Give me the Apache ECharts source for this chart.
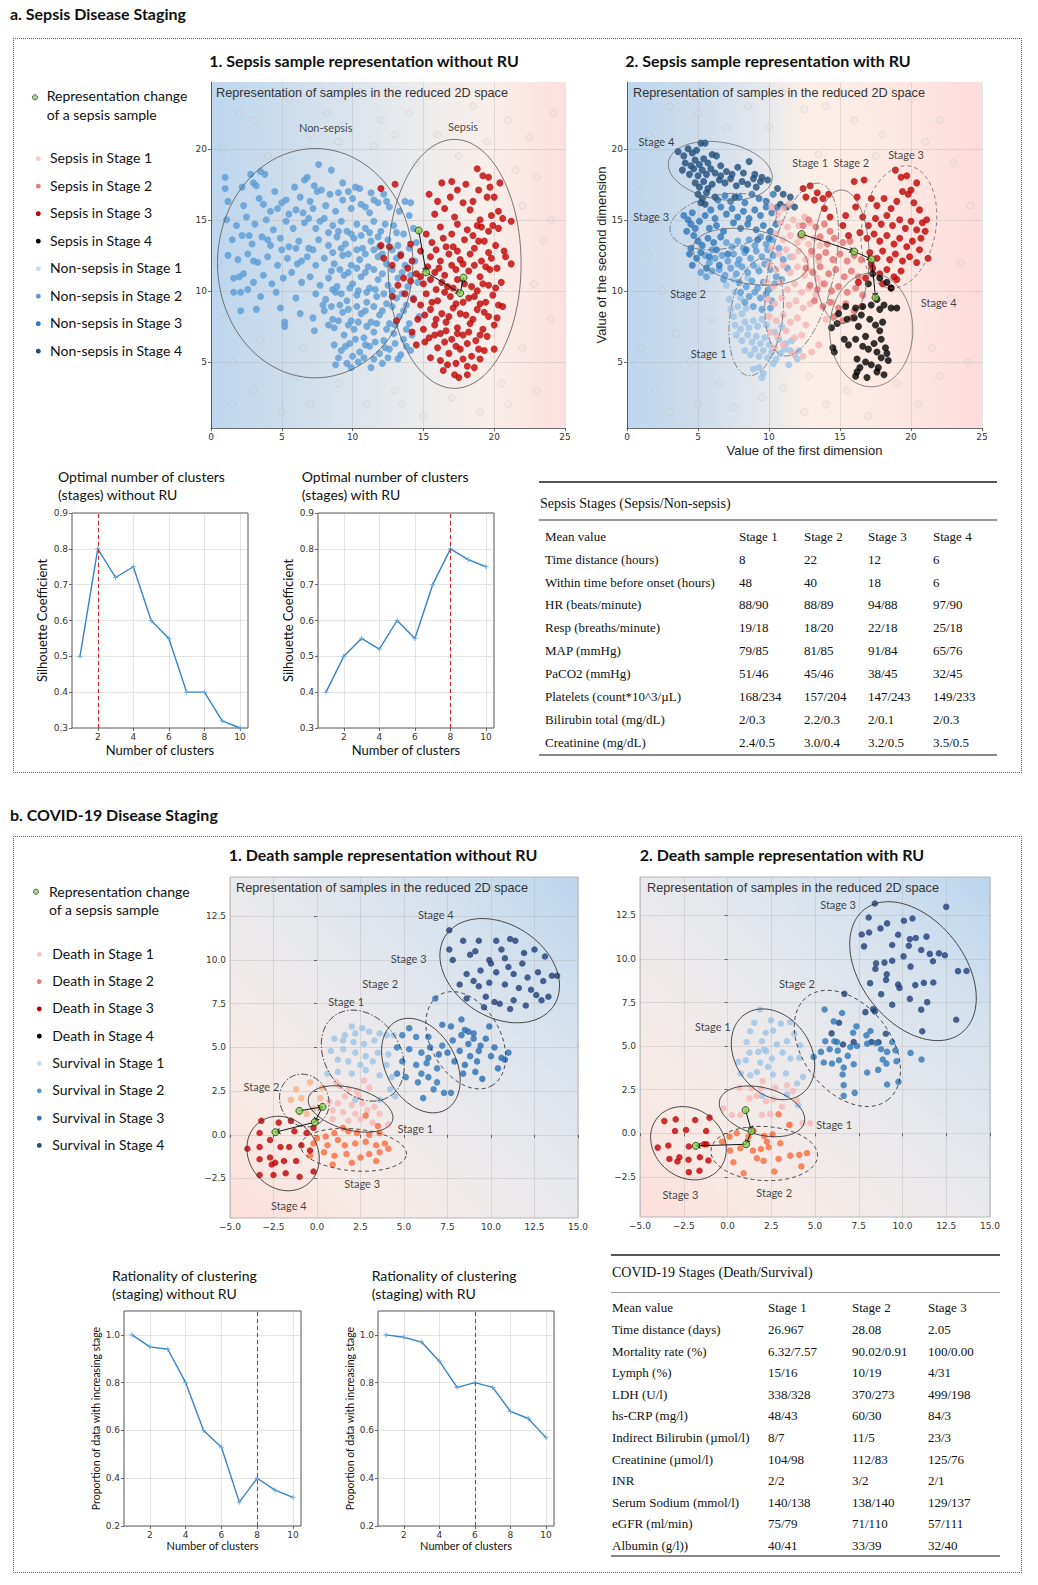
<!DOCTYPE html>
<html><head><meta charset="utf-8">
<script src="https://cdn.jsdelivr.net/npm/echarts@6/dist/echarts.min.js"></script>
<style>
html,body{margin:0;padding:0;background:#fff;}
#wrap{position:relative;width:1038px;height:1585px;overflow:hidden;background:#fff;}
#chart{position:absolute;left:0;top:0;width:1038px;height:1585px;z-index:2;}
.box{position:absolute;border:1px dotted #666;z-index:1;}
.sec{position:absolute;font-family:Lato,"Open Sans",sans-serif;font-weight:bold;font-size:16px;color:#111;transform:translateY(-50%);white-space:nowrap;z-index:3;}
.cell{position:absolute;font-family:"Liberation Serif","Times New Roman",serif;font-size:13px;color:#111;transform:translateY(-50%);white-space:nowrap;z-index:3;}
.ttl{font-size:14px;}
.hl{position:absolute;z-index:3;}
</style></head><body>
<div id="wrap">
<div class="box" style="left:13px;top:38px;width:1007px;height:733px;"></div>
<div class="box" style="left:13px;top:836px;width:1007px;height:735px;"></div>
<div class="sec" style="left:10px;top:13px;">a. Sepsis Disease Staging</div>
<div class="sec" style="left:10px;top:814px;">b. COVID-19 Disease Staging</div>
<div id="tables"></div>
<div id="chart"></div>
</div>
<script>
// ================= DATA =================
// --- a.1 Sepsis without RU (x: first dim, y: second dim) ---
const tlNonSepsisS2 = [[7.6,18.9],[8.5,18.5],[9.3,17.6],[6.8,18.0],[10.2,17.3],[7.5,17.0],[3.5,18.4],[3.8,18.2],[2.8,18.2],[1.0,18.0],
[1.0,17.2],[2.2,17.3],[3.0,17.6],[3.2,17.4],[4.5,17.0],[5.3,16.4],[6.3,16.6],[7.3,17.4],[7.8,17.1],[9.7,17.0],[10.5,17.2],[11.3,16.9],[12.2,16.8],[13.7,16.3],[14.1,16.2],
[1.2,16.3],[2.3,16.0],[3.7,16.1],[4.7,15.8],[5.0,16.2],[6.0,15.7],[6.5,15.5],[7.2,15.8],[8.1,16.0],[8.8,15.6],[9.3,16.4],[9.9,15.8],[10.6,16.1],[11.2,15.5],[11.8,16.2],[12.6,15.9],[13.3,15.6],[14.0,15.3],
[1.1,15.0],[1.8,14.6],[2.5,15.2],[3.1,14.7],[3.9,15.0],[4.4,14.3],[5.3,14.9],[5.8,14.4],[6.6,14.8],[7.4,14.4],[8.0,15.1],[8.6,14.6],[9.2,14.9],[9.6,14.2],[10.3,14.7],[10.9,14.4],[11.5,14.9],[12.0,14.2],[12.9,14.6],[13.6,14.0],[14.3,14.4],
[1.5,13.6],[2.2,13.9],[2.9,13.3],[3.6,13.8],[4.2,13.2],[4.9,13.7],[5.5,13.1],[6.2,13.5],[6.9,13.0],[7.6,13.6],[8.3,13.2],[8.9,13.8],[9.5,13.3],[10.1,13.7],[10.7,13.0],[11.3,13.5],[11.9,13.1],[12.5,13.6],[13.2,13.2],[14.0,13.0],[14.5,13.4],
[1.2,12.5],[1.9,12.2],[2.6,12.6],[3.3,12.0],[4.0,12.4],[4.7,11.8],[5.4,12.3],[6.1,11.9],[6.8,12.4],[7.4,11.8],[8.0,12.3],[8.7,11.9],[9.3,12.5],[9.9,11.8],[10.5,12.2],[11.1,11.7],[11.8,12.4],[12.4,11.9],[13.1,12.3],[13.7,11.8],[14.4,12.1],
[1.6,10.9],[2.3,11.2],[3.0,10.6],[3.7,11.1],[4.3,10.5],[5.1,10.9],[5.7,11.3],[6.4,10.6],[7.0,11.0],[7.7,10.4],[8.3,10.9],[8.9,10.3],[9.4,11.1],[10.0,10.5],[10.6,11.0],[11.2,10.2],[11.8,10.8],[12.5,10.4],[13.2,10.9],[13.9,10.3],[14.6,10.6],
[1.6,9.9],[2.1,9.9],[2.6,10.1],[3.5,9.6],[4.6,9.9],[6.0,9.5],[7.4,9.8],[8.1,9.4],[8.8,9.9],[9.6,9.3],[10.3,9.7],[11.0,9.2],[11.7,9.6],[12.4,9.1],[13.1,9.5],[13.8,9.0],[14.3,9.5],
[2.1,8.6],[3.2,8.7],[4.9,8.8],[6.3,8.4],[7.2,8.1],[8.0,8.6],[8.6,8.0],[9.3,8.5],[9.9,7.9],[10.6,8.4],[11.3,7.8],[11.9,8.3],[12.6,7.7],[13.3,8.2],[14.0,7.7],[14.7,8.2],
[5.2,7.8],[5.2,7.5],[7.3,7.2],[8.7,7.4],[9.4,6.9],[10.1,7.3],[10.8,6.7],[11.5,7.1],[12.2,6.5],[12.9,7.0],[13.6,6.6],[14.2,6.9],
[8.7,6.2],[9.2,5.8],[9.8,6.3],[10.5,5.7],[11.2,6.1],[11.9,5.6],[12.6,5.9],[13.4,5.5],[14.1,5.8],[10.0,5.4],[11.5,5.2],
[9.0,5.3],[8.8,4.8],[9.6,4.9],[10.4,5.0],[11.3,4.6],[12.1,4.9],[13.2,5.2],
[8.4,16.8],[9.0,16.9],[10.0,16.5],[10.9,15.9],[11.5,16.4],[12.4,16.3],[8.3,14.1],[9.0,14.2],[9.9,14.0],[10.6,13.9],[11.2,14.1],[11.8,13.8],[12.3,14.7],[13.1,14.1],[8.6,12.7],[9.2,13.0],[9.7,12.6],[10.3,12.9],[10.9,12.6],[11.5,12.9],[12.1,12.6],[12.8,12.9],[13.4,12.6],[8.5,11.4],[9.1,11.5],[9.7,11.3],[10.3,11.6],[10.9,11.3],[11.5,11.5],[12.1,11.2],[12.8,11.5],[13.5,11.3],[14.1,11.1],[8.6,10.1],[9.2,9.8],[9.8,10.2],[10.4,10.0],[11.0,9.9],[11.6,10.1],[12.2,9.8],[12.8,10.0],[13.5,9.8],[7.9,9.0],[8.5,8.9],[9.1,9.0],[9.7,8.7],[10.3,8.9],[10.9,8.6],[11.5,8.9],[12.1,8.6],[12.8,8.9],[13.6,8.6],[8.3,7.6],[9.0,7.9],[9.7,7.6],[10.4,7.8],[11.0,7.5],[11.7,7.7],[12.4,7.3],[13.0,7.6],[13.8,7.3],[9.5,6.1],[10.2,6.6],[10.9,6.2],[11.6,6.4],[12.3,6.0],[13.0,6.3],[13.8,6.1],[9.9,4.6],[10.8,5.3],[12.5,5.3],[4.0,13.6],[3.0,12.1],[2.0,11.0],[5.0,12.9],[6.0,13.0],[6.4,12.1],[7.2,12.9],[4.2,15.6],[5.5,15.4],[6.9,15.1],[7.7,14.9],[3.4,16.5],[5.9,17.3],[6.6,17.8],[7.0,16.3],[2.7,13.9]];
const tlSepsisS3 = [[12.0,17.2],[13.0,17.5],[16.3,17.6],[17.0,17.7],[18.8,18.6],[19.2,18.1],[19.6,18.0],[20.4,17.6],[18.9,17.1],[19.5,16.6],[20.0,16.6],[16.9,16.6],[17.8,16.2],[18.5,16.3],[20.3,15.6],[21.2,14.9],[15.8,15.4],[16.5,15.8],[17.2,15.2],[18.3,15.7],[19.0,15.0],[19.8,15.3],[20.6,15.1],[16.2,14.5],[17.4,14.7],[18.1,14.3],[18.8,14.6],[19.6,14.2],[20.3,14.4],[15.2,14.0],[14.1,13.3],[15.6,13.4],[16.4,13.7],[17.1,13.1],[17.9,13.6],[18.6,13.0],[19.3,13.5],[20.1,13.2],[20.7,12.8],[12.0,13.2],[12.6,13.1],[13.4,12.5],[14.8,12.8],[15.5,12.4],[16.2,12.1],[16.8,12.6],[17.6,12.2],[18.3,12.6],[19.1,12.1],[19.8,12.3],[20.8,12.4],[21.2,11.9],[12.2,12.3],[12.8,11.8],[13.9,11.6],[14.5,11.2],[15.8,11.3],[16.5,11.1],[17.3,11.5],[18.2,11.4],[19.0,11.0],[19.7,11.5],[13.2,10.4],[14.1,10.7],[15.0,10.5],[15.9,10.1],[16.7,10.3],[17.4,10.8],[18.4,10.3],[19.2,10.5],[20.1,10.2],[12.8,9.6],[14.3,9.4],[15.2,9.8],[16.0,9.3],[16.9,9.6],[17.8,9.2],[18.6,9.6],[19.4,9.2],[20.3,9.0],[20.6,8.9],[15.5,8.7],[16.3,8.4],[17.1,8.8],[18.0,8.3],[18.8,8.7],[19.6,8.2],[13.1,7.9],[14.6,8.0],[15.8,7.6],[16.6,7.8],[17.4,7.4],[18.3,7.7],[19.2,7.3],[20.0,7.6],[14.2,7.1],[15.4,6.7],[16.2,7.0],[17.0,6.6],[17.8,6.9],[18.7,6.5],[19.5,6.8],[16.0,6.0],[16.8,5.6],[17.6,5.9],[18.4,5.4],[19.3,5.8],[20.0,5.9],[16.2,5.1],[17.3,4.9],[18.1,4.7],[19.0,5.2],[16.4,4.4],[17.2,4.1],[18.1,4.1],[15.5,5.3],[15.1,6.4],[14.5,6.2],
[15.4,16.8],[16.0,16.3],[17.4,17.1],[18.0,17.5],[19.7,17.3],[17.0,14.0],[18.5,13.9],[19.1,14.5],[19.9,14.6],[15.9,12.9],[16.6,13.1],[17.4,12.8],[18.9,13.5],[19.6,12.7],[14.2,12.1],[15.3,11.7],[16.1,11.6],[17.0,11.8],[17.8,11.9],[18.6,11.8],[19.4,11.7],[20.2,11.6],[13.6,10.9],[14.8,11.0],[15.5,10.8],[16.3,10.6],[17.1,10.2],[17.9,10.5],[18.8,10.0],[19.6,10.4],[20.5,10.6],[13.7,9.8],[14.8,9.0],[15.6,9.2],[16.5,9.9],[17.3,9.1],[18.2,9.5],[19.0,9.1],[19.9,9.7],[15.1,8.3],[15.9,8.0],[16.8,8.2],[17.6,8.4],[18.5,8.0],[19.3,8.5],[20.2,8.1],[15.0,7.3],[15.8,6.9],[16.6,7.2],[17.4,7.0],[18.2,7.1],[19.0,6.9],[16.5,6.4],[17.3,6.1],[18.1,6.3],[18.9,5.9],[16.7,4.8],[17.8,5.2],[18.6,4.6],[17.5,3.9]];
const tlFaint = [[3,22],[5.5,23.5],[7,21],[9,20.5],[12,22],[13,21],[14,22.5],[15.5,23.8],[16,21],[18.5,23],[19.5,20.5],[21,22],[22.5,20.8],[23,18],[22,16],[23.5,13.5],[22.8,10.5],[24,8],[22,6],[23,3],[21,2],[19,1.5],[17,2.5],[15,1.2],[13,3],[11,2],[9,3.5],[7,2],[5,1.5],[3,3],[1.5,5],[0.8,8],[0.5,12],[0.9,20],[2,22.5],[4,19.5],[6,4],[1.5,2],[11.5,20.2],[8.2,22.5],[10.5,24],[20.5,3.5],[24.2,22.5],[24,15],[21.5,18.5],[14.5,19],[13.5,2],[6.5,6],[3.5,6.5],[17.5,19.5]];
const tlGreenPath = [[14.67,14.25],[15.19,11.31],[17.6,9.84],[17.83,10.94]];
// ellipse: [centre x, centre y, semi-axis a, semi-axis b, angle deg, dash 0 solid/1 dashed/2 dash-dot]
const tlEllipses = [[7.36,11.95,6.9,8.07,0,0],[17.2,11.9,4.7,8.76,0,0]];
const tlLabels = [[8.1,21.5,'Non-sepsis'],[17.8,21.6,'Sepsis']];

// --- a.2 Sepsis with RU ---
const trNonSepsisS4 = [[3.6,19.8],[4.0,19.5],[4.3,20.0],[4.6,19.7],[4.9,19.9],[5.2,20.4],[5.5,20.4],[4.1,19.0],[4.5,18.8],[4.8,19.2],[5.1,18.9],[5.4,19.3],[5.7,19.0],[6.0,19.6],[6.3,19.5],[3.9,18.5],[4.4,18.2],[4.7,18.6],[5.0,18.1],[5.3,18.5],[5.6,18.2],[5.9,18.6],[6.2,18.3],[6.6,18.8],[7.0,18.4],[7.4,18.2],[7.8,18.7],[8.2,18.3],[8.6,19.1],[9.0,18.2],[9.5,18.0],[9.9,17.8],[4.8,17.6],[5.1,17.3],[5.4,17.7],[5.7,17.2],[6.0,17.5],[6.5,17.8],[6.9,17.6],[7.3,17.9],[7.7,17.4],[8.1,17.7],[8.5,17.5],[9.1,17.3],[9.4,17.7],[5.0,16.8],[5.3,16.5],[5.6,16.9],[5.2,16.2],[5.5,16.1],[6.2,16.6],[7.6,16.6],[10.6,17.2],[11.0,16.8],[11.5,16.6],[10.8,16.1],[11.2,15.9],[11.8,15.9],[6.6,18.1],[8.9,17.9]];
const trNonSepsisS3 = [[4.0,15.3],[4.3,15.0],[4.6,15.5],[4.5,14.7],[4.8,14.4],[5.1,14.9],[4.2,14.2],[4.7,13.9],[5.0,13.5],[5.3,13.2],[4.5,13.0],[4.4,12.6],[4.9,12.3],[5.2,12.7],[5.5,15.3],[5.9,15.7],[6.2,15.1],[6.6,15.9],[7.0,15.4],[7.4,15.8],[7.8,15.2],[8.2,15.6],[8.6,15.1],[9.0,15.7],[9.4,15.3],[9.8,15.9],[10.2,15.5],[10.6,15.9],[6.4,16.4],[6.9,16.7],[7.3,16.3],[7.9,16.6],[8.3,16.2],[8.8,16.8],[9.3,16.5],[9.8,16.3],[10.3,16.8],[5.8,14.4],[6.3,14.6],[6.8,14.2],[7.5,14.8],[8.0,14.4],[8.5,14.7],[9.1,14.3],[9.6,14.6],[10.1,14.2],[10.5,14.7],[5.7,13.7],[6.1,13.4],[6.6,13.8],[5.8,12.4],[6.3,12.9],[4.6,11.8],[5.6,11.6],[6.5,11.8],[7.1,12.6],[8.4,12.9],[9.2,13.6],[10.0,13.7]];
const trNonSepsisS2 = [[5.2,11.3],[5.6,11.0],[6.0,11.4],[5.8,12.0],[6.2,12.3],[6.7,12.5],[7.1,12.1],[7.5,12.6],[7.9,12.2],[8.3,12.7],[8.7,12.3],[9.1,12.8],[9.5,12.4],[9.9,12.9],[10.3,12.5],[10.7,13.0],[6.5,11.5],[6.9,11.1],[7.3,11.6],[7.7,11.2],[8.1,11.7],[8.5,11.3],[8.9,11.8],[9.3,11.4],[9.7,11.9],[10.1,11.5],[7.4,13.1],[7.8,13.5],[8.2,13.0],[8.6,13.6],[9.0,13.2],[9.4,13.8],[9.8,13.3],[10.2,13.6],[7.8,11.9],[6.8,10.8],[7.9,10.6],[8.4,10.3],[8.8,10.7],[9.2,10.2],[9.6,10.6],[10.0,10.1],[10.4,10.5],[8.0,9.9],[8.6,9.6],[9.0,9.9],[9.4,9.5],[9.8,9.8],[10.2,9.3],[8.3,9.2],[8.9,8.9],[9.5,8.7],[10.1,8.8],[10.5,11.0],[10.9,10.8],[11.3,11.6],[6.0,12.9],[5.5,12.5],[7.0,13.4],[11.0,12.2]];
const trNonSepsisS1 = [[7.3,8.7],[7.5,8.2],[7.8,8.9],[8.1,8.4],[8.4,8.8],[7.6,7.6],[8.0,7.3],[8.3,7.8],[8.6,7.4],[8.9,7.9],[9.2,7.5],[9.5,8.0],[9.8,7.6],[7.7,6.9],[8.1,6.5],[8.5,6.9],[8.8,6.4],[9.1,6.8],[9.4,6.3],[9.7,6.7],[10.0,6.2],[8.3,5.8],[8.7,5.5],[9.0,5.9],[9.3,5.4],[9.6,5.8],[9.9,5.3],[10.2,5.7],[10.5,5.2],[10.8,5.6],[11.1,5.9],[11.5,5.8],[11.8,5.5],[12.0,5.2],[11.4,4.8],[10.3,4.9],[9.3,4.6],[8.9,4.5],[9.6,4.2],[9.5,3.9],[7.2,9.4],[7.6,9.9],[8.0,9.5],[10.4,7.1],[10.7,6.6],[10.9,7.5],[11.2,6.3],[11.6,6.5],[12.1,5.8],[7.0,10.4],[7.5,10.8],[8.5,10.9],[9.2,11.6],[10.0,12.1],[11.5,12.4]];
const trSepsisS1 = [[10.2,15.9],[10.6,15.4],[11.0,15.8],[11.4,16.1],[10.8,14.8],[11.3,14.5],[11.7,15.0],[12.1,14.6],[12.5,15.2],[12.9,14.8],[10.5,14.0],[11.0,13.6],[11.5,13.9],[12.0,13.4],[12.4,13.8],[12.8,13.3],[13.2,13.7],[13.6,13.2],[10.2,13.0],[10.7,12.6],[11.2,12.9],[11.7,12.4],[12.1,12.8],[12.6,12.2],[13.0,12.6],[13.5,12.1],[10.0,11.8],[10.5,11.5],[11.0,11.8],[11.5,11.3],[12.0,11.7],[12.5,11.1],[13.0,11.4],[13.4,10.9],[9.8,10.6],[10.3,10.3],[10.8,10.6],[11.3,10.1],[11.8,10.5],[12.3,9.9],[12.8,10.2],[13.3,9.7],[9.9,9.4],[10.4,9.1],[10.9,9.5],[11.4,9.0],[11.9,9.3],[12.4,8.8],[12.9,9.1],[10.0,8.2],[10.5,7.9],[11.0,8.3],[11.5,7.8],[12.0,8.1],[12.6,7.6],[10.1,7.1],[10.6,6.8],[11.2,7.2],[11.8,6.7],[12.3,6.9],[10.4,6.0],[11.0,6.2],[11.7,5.6],[12.4,5.4],[13.0,5.7],[13.5,6.2],[14.0,8.0],[14.5,9.2],[13.7,10.5]];
const trSepsisS2 = [[12.8,15.0],[13.3,14.5],[13.9,14.7],[14.3,14.2],[13.6,13.8],[14.1,13.3],[14.6,13.7],[15.2,13.4],[15.7,13.5],[13.0,12.8],[13.5,12.4],[14.0,12.7],[14.5,12.2],[15.0,12.6],[15.5,12.1],[16.0,12.5],[16.5,12.2],[12.6,11.6],[13.1,11.3],[13.6,11.7],[14.2,11.2],[14.7,11.5],[15.3,11.0],[15.8,11.4],[16.3,11.0],[12.9,10.4],[13.4,10.1],[13.9,10.5],[14.4,10.0],[14.9,10.3],[15.5,9.9],[16.1,10.2],[16.6,9.7],[13.2,9.3],[13.8,8.9],[14.3,9.2],[14.9,8.8],[15.4,9.1],[16.0,8.6],[16.5,8.9],[14.6,8.2],[15.2,7.9],[15.8,8.1],[12.2,13.9],[12.4,14.6]];
const trSepsisS3 = [[12.4,17.2],[12.9,17.4],[13.4,16.9],[13.8,16.5],[14.2,16.8],[12.6,16.6],[13.2,16.4],[16.0,17.7],[16.7,17.8],[18.9,18.5],[19.3,18.0],[19.7,18.1],[20.0,17.1],[20.4,17.6],[17.2,16.5],[17.6,16.0],[18.1,16.5],[18.6,15.8],[19.0,16.3],[19.4,17.0],[19.8,16.8],[20.2,16.2],[20.6,15.7],[21.1,15.0],[17.5,15.1],[17.9,14.7],[18.3,15.3],[18.7,14.6],[19.2,15.0],[19.6,14.4],[20.0,14.9],[20.4,14.3],[20.8,14.8],[16.1,15.9],[16.6,15.2],[17.0,14.6],[16.4,14.1],[16.9,13.7],[17.4,14.0],[17.8,13.5],[18.3,13.9],[18.8,13.3],[19.2,13.7],[19.7,13.1],[20.1,13.5],[20.6,12.9],[21.2,12.3],[17.1,12.7],[17.6,12.3],[18.0,12.8],[18.5,12.2],[18.9,12.6],[19.4,12.1],[19.9,12.4],[20.4,12.0],[17.3,11.6],[17.8,11.2],[18.3,11.5],[18.8,11.0],[19.3,11.4],[18.0,10.5],[18.6,10.2],[16.8,10.9],[16.3,10.6],[15.2,14.6],[15.6,13.9],[14.3,15.2],[13.9,15.8],[16.2,16.6],[15.4,15.3],[21.0,14.2],[20.7,13.7],[19.0,10.8],[17.2,11.9]];
const trSepsisS4 = [[17.3,11.2],[17.8,10.9],[18.3,10.6],[17.0,10.5],[18.6,10.2],[17.6,9.4],[18.1,9.0],[17.2,9.0],[17.8,8.7],[16.6,8.9],[16.1,8.8],[15.4,8.9],[14.9,8.4],[15.5,8.0],[16.0,8.1],[16.5,8.3],[17.1,8.0],[17.5,7.6],[18.0,7.8],[18.6,8.8],[19.0,8.8],[14.4,7.4],[14.8,7.7],[15.3,6.6],[16.1,6.6],[16.8,6.8],[17.4,6.3],[17.9,6.6],[18.2,6.0],[14.5,6.0],[14.6,5.7],[16.6,6.1],[17.0,5.9],[17.6,5.7],[17.9,5.3],[18.4,5.1],[16.2,5.2],[16.8,5.0],[17.2,4.8],[17.7,4.6],[16.2,4.3],[16.1,4.0],[16.9,3.9],[17.6,4.3],[18.1,4.1],[18.3,5.6],[16.4,4.6],[15.6,6.2],[17.8,7.2],[16.3,7.5]];
const trFaint = [[1,6],[2,3],[3.5,7],[2.5,10],[1.5,12.5],[3,1.5],[5,2],[6.5,3.5],[7.5,1.8],[9.5,2.5],[11,3.2],[12.5,1.5],[14,2],[15.5,3],[17,1.2],[19,3.5],[20.5,2],[22,4],[21.5,6],[22.8,9.5],[23.5,12],[24.2,16],[23,19],[22,22],[20,23.5],[18,21],[16,22],[14,23],[12.5,22.8],[11,24],[10,21.5],[8.5,23],[7,21.5],[5,22.5],[3,23],[1.5,21],[0.8,17],[2.2,15],[13.5,19.6],[17.5,19.5],[21,20.5],[24,5],[4.5,5],[6,8],[12.8,4]];
const trGreenPath = [[12.3,14.0],[16.0,12.77],[17.23,12.23],[17.5,9.53]];
const trEllipses = [[6.57,18.45,3.7,2.0,-10,0],[6.78,14.88,3.8,1.9,10,2],[8.69,12.4,4.1,1.9,-10,0],[9.1,8.15,1.85,4.15,-8,2],[12.3,11.5,2.3,6.2,-12,2],[15.1,12.4,1.95,4.7,0,0],[19.15,14.5,2.6,4.35,-10,1],[17.2,7.25,2.93,4.0,0,0]];
const trLabels = [[2.07,20.5,'Stage 4'],[1.7,15.2,'Stage 3'],[4.3,9.8,'Stage 2'],[5.75,5.56,'Stage 1'],[12.9,19.0,'Stage 1'],[15.8,19.06,'Stage 2'],[19.65,19.6,'Stage 3'],[21.95,9.2,'Stage 4']];

// --- Silhouette coefficient curves ---
const clusterCounts = [1,2,3,4,5,6,7,8,9,10];
const silhouetteWithoutRU = [0.5,0.8,0.72,0.75,0.6,0.55,0.4,0.4,0.32,0.3];
const silhouetteWithRU = [0.4,0.5,0.55,0.52,0.6,0.55,0.7,0.8,0.77,0.75];
const silhouetteOptimal = [2,8];

// --- b.1 Death without RU ---
const blSurvivalS4 = [[7.6,11.7],[8.4,11.1],[9.3,11.1],[10.3,11.1],[11.1,11.2],[11.4,11.1],[7.6,10.6],[7.8,10.0],[9.1,10.5],[9.9,10.0],[10.6,10.6],[11.9,10.4],[12.5,10.6],[10.8,10.1],[11.8,9.8],[13.1,10.2],[8.6,9.2],[9.4,9.4],[10.3,9.3],[11.3,9.2],[12.1,9.0],[12.7,9.3],[13.5,9.1],[13.8,9.1],[8.2,8.6],[9.0,8.8],[9.3,8.5],[9.9,8.7],[10.8,8.6],[11.6,8.4],[12.3,8.3],[13.0,8.8],[8.6,7.8],[9.7,7.9],[10.5,7.5],[11.3,7.7],[12.0,7.4],[12.9,7.7],[13.3,7.9],[9.6,7.3],[10.2,7.6],[11.1,7.2],[12.6,8.0],[11.0,9.6],[10.0,9.8],[8.8,10.3]];
const blSurvivalS3 = [[6.8,7.8],[7.2,6.3],[7.7,6.2],[8.3,6.6],[8.5,6.0],[9.0,5.8],[7.8,5.4],[8.3,5.7],[8.7,5.2],[9.0,5.5],[9.4,5.1],[9.7,5.5],[8.2,4.8],[8.8,4.5],[9.3,4.8],[10.0,4.5],[10.6,4.4],[7.9,4.2],[8.5,4.0],[9.2,4.2],[10.4,3.8],[8.4,3.5],[9.1,3.6],[9.5,3.2],[8.7,5.9],[10.2,5.0],[7.5,4.7],[10.8,4.3],[11.0,4.7],[9.9,6.2],[6.5,5.0],[7.0,4.6]];
const blSurvivalS2 = [[5.3,6.1],[4.9,5.7],[5.7,5.6],[6.4,5.6],[4.6,5.0],[5.3,4.9],[6.0,4.7],[6.4,4.4],[5.7,4.0],[6.3,4.1],[6.9,3.8],[4.6,3.5],[5.1,3.3],[5.8,3.0],[6.4,3.3],[6.7,2.6],[7.3,2.4],[6.1,2.1],[7.7,2.4],[6.9,3.0],[6.0,3.5],[4.9,4.2],[7.2,5.1]];
const blSurvivalS1 = [[2.0,6.2],[2.6,6.1],[2.2,5.8],[3.0,5.9],[3.6,5.8],[4.0,5.7],[4.4,5.7],[1.6,5.7],[1.0,5.5],[1.5,5.4],[2.1,5.3],[2.7,5.2],[3.3,5.4],[0.8,4.8],[1.5,4.9],[2.2,4.7],[2.8,4.5],[3.5,4.7],[4.1,4.6],[1.2,4.3],[1.8,4.2],[2.5,4.0],[3.2,4.2],[4.0,4.0],[0.6,3.5],[1.2,3.6],[2.0,3.5],[2.8,3.7],[3.6,3.4],[4.3,3.3],[4.5,2.2],[3.6,2.0],[2.2,2.0],[4.2,2.6]];
const blDeathS1 = [[1.3,2.8],[1.8,2.6],[2.3,2.5],[1.6,2.2],[2.4,2.2],[3.0,2.7],[0.7,1.9],[1.2,1.8],[2.0,1.7],[2.6,1.8],[3.3,1.6],[0.9,1.4],[1.5,1.3],[2.2,1.2],[2.9,1.4],[3.6,1.2],[0.9,0.9],[1.8,0.8],[2.5,0.9],[3.2,0.7],[4.1,0.6],[1.1,3.0],[2.7,3.1]];
const blDeathS2 = [[-1.2,2.6],[-0.4,3.0],[0.3,2.7],[-0.9,2.1],[0.2,2.1],[-1.5,2.0],[-0.2,1.5],[-0.6,1.2]];
const blDeathS3 = [[2.8,1.1],[1.0,0.1],[1.8,0.2],[2.3,0.1],[3.0,0.0],[3.6,0.1],[0.0,-0.2],[0.5,-0.1],[1.2,-0.3],[1.6,-0.6],[2.2,-0.5],[2.8,-0.4],[3.4,-0.6],[3.9,-0.5],[4.1,-0.8],[0.4,-1.0],[1.0,-1.2],[1.7,-1.1],[2.5,-1.3],[3.0,-1.1],[3.6,-1.0],[0.9,-1.7],[2.0,-1.6],[3.4,-1.5],[-0.2,-0.5],[-0.4,-1.2],[0.6,-0.6],[3.5,0.5],[1.5,0.4]];
const blDeathS4 = [[-3.2,0.8],[-2.2,0.7],[-1.5,0.8],[-3.3,0.1],[-2.7,-0.3],[-1.3,0.2],[-0.6,0.1],[-4.0,-0.8],[-3.3,-0.7],[-2.1,-0.7],[-1.6,-0.7],[-0.9,-0.6],[-3.3,-1.4],[-2.7,-1.3],[-2.4,-1.6],[-1.9,-1.5],[-1.2,-1.5],[-2.6,-1.7],[-3.3,-2.3],[-2.5,-2.3],[-1.8,-2.2],[-1.0,-2.4],[-0.2,-2.1],[-0.4,-0.9],[-0.2,0.4]];
const blGreenPath = [[-1.01,1.37],[0.32,1.6],[-0.13,0.72],[-2.39,0.15]];
const blEllipses = [[10.5,9.39,3.7,2.65,-32,0],[8.55,5.41,3.0,2.0,-60,1],[5.97,3.96,2.9,2.0,-60,0],[2.63,4.53,2.8,2.15,-55,2],[-0.73,1.96,1.55,1.38,-60,2],[1.93,1.48,2.5,1.2,-15,0],[2.1,-0.86,3.05,1.2,-5,1],[-1.95,-1.07,2.25,1.95,-50,0]];
const blLabels = [[6.83,12.6,'Stage 4'],[5.27,10.08,'Stage 3'],[3.63,8.67,'Stage 2'],[1.68,7.62,'Stage 1'],[-3.19,2.76,'Stage 2'],[5.65,0.38,'Stage 1'],[2.6,-2.8,'Stage 3'],[-1.62,-4.04,'Stage 4']];

// --- b.2 Death with RU ---
const brSurvivalS4 = [[8.42,13.18],[8.07,12.38],[12.5,12.99],[8.74,11.75],[9.12,12.04],[10.08,12.19],[10.57,12.32],[7.67,11.4],[8.09,11.52],[9.75,11.39],[11.37,11.28],[10.42,11.14],[10.76,11.2],[7.8,10.72],[9.41,10.8],[10.36,10.76],[11.07,10.51],[11.56,10.29],[12.08,10.32],[12.42,10.21],[10.06,10.15],[11.74,9.87],[8.49,9.75],[8.97,9.79],[9.41,9.9],[8.45,9.43],[10.46,9.56],[13.17,9.3],[13.66,9.31],[9.1,9.12],[9.06,8.8],[8.15,8.61],[11.22,8.63],[11.76,8.65],[9.75,8.53],[9.83,8.34],[10.73,8.5],[8.78,7.98],[10.42,7.71],[11.41,7.52],[9.41,7.37],[11.07,7.09],[8.32,7.12],[13.07,6.51],[11.13,5.85],[6.68,8.0],[8.42,6.99],[7.88,6.95],[6.37,6.34],[5.95,5.73],[6.6,5.09],[7.21,5.24],[8.23,5.24],[8.63,5.22],[9.05,5.71]];
const brSurvivalS2 = [[5.55,7.1],[6.55,6.9],[6.07,6.42],[5.59,5.28],[4.92,4.38],[5.34,4.67],[5.97,4.0],[6.26,5.24],[6.3,4.74],[6.37,4.19],[7.02,4.95],[6.87,4.44],[6.64,3.77],[6.58,3.37],[6.64,2.76],[7.21,3.96],[7.4,5.01],[7.98,5.14],[8.49,5.18],[7.98,3.49],[8.61,3.64],[8.87,4.23],[8.78,4.82],[9.08,4.0],[9.66,4.13],[9.12,4.67],[9.41,5.24],[9.6,4.76],[9.77,2.95],[9.12,2.8],[6.64,2.15],[7.27,2.32],[10.46,4.61],[11.09,4.23],[7.94,5.62],[8.17,5.87],[7.18,5.77],[7.37,6.13],[6.11,5.28],[5.84,4.82],[5.5,4.06]];
const brSurvivalS1 = [[1.85,7.1],[1.53,6.34],[2.48,6.48],[3.05,6.29],[1.3,5.85],[1.97,5.28],[2.18,5.77],[2.6,5.89],[2.82,5.1],[3.4,5.28],[1.09,5.24],[1.26,4.63],[1.76,4.67],[2.21,4.71],[2.1,4.82],[2.54,4.29],[3.15,4.63],[3.59,4.29],[4.1,4.32],[0.61,4.1],[1.05,4.19],[1.87,4.06],[2.31,3.81],[1.68,3.52],[2.6,3.37],[3.34,3.43],[4.31,3.24],[3.97,2.86],[0.76,3.43],[1.3,3.33],[1.98,2.15],[3.4,2.23],[4.03,1.62],[3.59,6.38],[3.82,5.71],[4.16,5.05]];
const brDeathS1 = [[0.69,2.61],[1.37,2.57],[1.91,2.57],[2.73,2.61],[3.74,2.42],[1.26,2.0],[1.68,2.15],[2.21,1.85],[2.63,1.96],[-0.23,1.43],[0.25,1.05],[0.73,1.05],[1.97,1.05],[2.44,1.1],[2.0,2.99],[4.29,0.57],[4.73,0.57],[3.59,0.48],[3.97,1.9],[3.11,1.52],[3.4,2.76]];
const brDeathS2 = [[2.92,1.09],[0.53,0.0],[0.11,-0.19],[-0.31,-0.48],[1.49,0.15],[2.1,-0.15],[2.58,-0.06],[2.25,-0.48],[3.02,-0.57],[3.53,0.48],[0.15,-0.99],[0.73,-0.86],[1.45,-0.99],[1.91,-0.9],[2.35,-0.8],[3.59,-1.28],[4.1,-1.24],[4.54,-1.14],[0.34,-1.66],[2.06,-1.58],[2.92,-1.47],[0.92,-2.29],[2.67,-2.19],[4.22,-1.9],[1.68,-1.43],[1.2,-0.19]];
const brDeathS3 = [[-3.61,0.7],[-2.96,0.8],[-1.85,0.76],[-1.03,0.9],[-3.0,0.13],[-2.37,0.19],[-1.22,0.13],[-3.99,-0.82],[-3.38,-0.7],[-2.21,-0.76],[-1.34,-0.63],[-1.2,-0.63],[-1.58,-1.37],[-1.09,-1.56],[-3.32,-1.47],[-2.75,-1.37],[-2.86,-1.62],[-2.23,-1.52],[-2.21,-2.23],[-1.6,-2.15]];
const brGreenPath = [[1.03,1.33],[1.37,0.13],[1.07,-0.63],[-1.81,-0.72]];
const brEllipses = [[10.6,9.3,4.5,2.95,-52,0],[6.85,4.87,3.75,2.5,-52,1],[2.6,4.53,2.8,2.15,-55,0],[1.97,1.26,2.5,1.35,-15,0],[2.1,-1.16,3.05,1.55,-3,1],[-2.23,-0.57,2.3,1.95,-40,0]];
const brLabels = [[6.32,13.1,'Stage 3'],[3.97,8.61,'Stage 2'],[-0.84,6.1,'Stage 1'],[6.1,0.48,'Stage 1'],[-2.69,-3.52,'Stage 3'],[2.67,-3.39,'Stage 2']];

// --- Rationality curves ---
const rationalityWithoutRU = [1.0,0.95,0.94,0.8,0.6,0.53,0.3,0.4,0.35,0.32];
const rationalityWithRU = [1.0,0.99,0.97,0.89,0.78,0.8,0.78,0.68,0.65,0.57];
const rationalityOptimal = [8,6];

// --- Tables ---
const sepsisTableTitle = 'Sepsis Stages (Sepsis/Non-sepsis)';
const sepsisHeader = ['Mean value','Stage 1','Stage 2','Stage 3','Stage 4'];
const sepsisRows = [
 ['Time distance (hours)','8','22','12','6'],
 ['Within time before onset (hours)','48','40','18','6'],
 ['HR (beats/minute)','88/90','88/89','94/88','97/90'],
 ['Resp (breaths/minute)','19/18','18/20','22/18','25/18'],
 ['MAP (mmHg)','79/85','81/85','91/84','65/76'],
 ['PaCO2 (mmHg)','51/46','45/46','38/45','32/45'],
 ['Platelets (count*10^3/\u00b5L)','168/234','157/204','147/243','149/233'],
 ['Bilirubin total (mg/dL)','2/0.3','2.2/0.3','2/0.1','2/0.3'],
 ['Creatinine (mg/dL)','2.4/0.5','3.0/0.4','3.2/0.5','3.5/0.5']];
const covidTableTitle = 'COVID-19 Stages (Death/Survival)';
const covidHeader = ['Mean value','Stage 1','Stage 2','Stage 3'];
const covidRows = [
 ['Time distance (days)','26.967','28.08','2.05'],
 ['Mortality rate (%)','6.32/7.57','90.02/0.91','100/0.00'],
 ['Lymph (%)','15/16','10/19','4/31'],
 ['LDH (U/l)','338/328','370/273','499/198'],
 ['hs-CRP (mg/l)','48/43','60/30','84/3'],
 ['Indirect Bilirubin (\u00b5mol/l)','8/7','11/5','23/3'],
 ['Creatinine (\u00b5mol/l)','104/98','112/83','125/76'],
 ['INR','2/2','3/2','2/1'],
 ['Serum Sodium (mmol/l)','140/138','138/140','129/137'],
 ['eGFR (ml/min)','75/79','71/110','57/111'],
 ['Albumin (g/l))','40/41','33/39','32/40']];

// --- Legends ---
const legendSepsis = [['Sepsis in Stage 1','#f8c4c4'],['Sepsis in Stage 2','#df7f7f'],['Sepsis in Stage 3','#c00000'],['Sepsis in Stage 4','#000000'],['Non-sepsis in Stage 1','#c6dcf1'],['Non-sepsis in Stage 2','#5b9bd5'],['Non-sepsis in Stage 3','#2e75b6'],['Non-sepsis in Stage 4','#1f4e79']];
const legendCovid = [['Death in Stage 1','#f8c4c4'],['Death in Stage 2','#df7f7f'],['Death in Stage 3','#c00000'],['Death in Stage 4','#000000'],['Survival in Stage 1','#c6dcf1'],['Survival in Stage 2','#5b9bd5'],['Survival in Stage 3','#2e75b6'],['Survival in Stage 4','#1f4e79']];

// ================= TABLES (HTML text) =================
(function(){
  const host=document.getElementById('tables');
  function cell(x,y,txt,cls){const d=document.createElement('div');d.className='cell'+(cls?' '+cls:'');d.style.left=x+'px';d.style.top=y+'px';d.textContent=txt;host.appendChild(d);}
  function hline(x1,x2,y,h,c){const d=document.createElement('div');d.className='hl';d.style.left=x1+'px';d.style.width=(x2-x1)+'px';d.style.top=(y-h/2)+'px';d.style.height=h+'px';d.style.background=c;host.appendChild(d);}
  hline(539,997,481.7,2,'#555');
  cell(540,504,sepsisTableTitle,'ttl');
  hline(539,997,520,1.5,'#999');
  const sc=[545,739,804,868,933];
  sepsisHeader.forEach((t,j)=>cell(sc[j],536.7,t));
  sepsisRows.forEach((r,i)=>r.forEach((t,j)=>cell(sc[j],536.7+22.9*(i+1),t)));
  hline(539,997,755.4,2,'#888');
  hline(611,1000,1255,2,'#555');
  cell(612,1273.3,covidTableTitle,'ttl');
  hline(611,1000,1292.7,1.5,'#999');
  const cc=[612,768,852,928];
  covidHeader.forEach((t,j)=>cell(cc[j],1308.3,t));
  covidRows.forEach((r,i)=>r.forEach((t,j)=>cell(cc[j],1308.3+21.6*(i+1),t)));
  hline(611,1000,1556,2,'#888');
})();

// ================= CHART =================
const FONT='Lato, "Open Sans", sans-serif';
const TFONT='"DejaVu Sans", sans-serif';
const DASHES=[null,[4,3],[7,2,1.5,2]];

const gradH1={type:'linear',x:0,y:0,x2:1,y2:0,colorStops:[{offset:0,color:'#bdd6ee'},{offset:0.3,color:'#d3e0ec'},{offset:0.58,color:'#ebebec'},{offset:0.78,color:'#f9eee9'},{offset:1,color:'#fde0dd'}]};
const gradH2={type:'linear',x:0,y:0,x2:1,y2:0,colorStops:[{offset:0,color:'#bdd6ee'},{offset:0.2,color:'#cddcec'},{offset:0.4,color:'#e8e9ec'},{offset:0.5,color:'#fbefe7'},{offset:0.75,color:'#fde8e3'},{offset:1,color:'#fddcdb'}]};
const gradD={type:'linear',x:0,y:1,x2:1,y2:0,colorStops:[{offset:0,color:'#fddedb'},{offset:0.22,color:'#f7ebe6'},{offset:0.5,color:'#e9e9ec'},{offset:0.78,color:'#d4e1ee'},{offset:1,color:'#bad5ee'}]};

const grids=[
 {left:211,top:82,width:354,height:346,show:true,backgroundColor:gradH1,borderWidth:0},
 {left:627,top:82,width:355,height:346,show:true,backgroundColor:gradH2,borderWidth:0},
 {left:72,top:513,width:176,height:215,show:true,backgroundColor:'#fff',borderColor:'#555',borderWidth:1},
 {left:318,top:513,width:176,height:215,show:true,backgroundColor:'#fff',borderColor:'#555',borderWidth:1},
 {left:230,top:877,width:348,height:341,show:true,backgroundColor:gradD,borderColor:'#b5b5b5',borderWidth:1},
 {left:640,top:877,width:350,height:340,show:true,backgroundColor:gradD,borderColor:'#b5b5b5',borderWidth:1},
 {left:124,top:1311,width:177,height:215,show:true,backgroundColor:'#fff',borderColor:'#555',borderWidth:1},
 {left:378,top:1311,width:176,height:215,show:true,backgroundColor:'#fff',borderColor:'#555',borderWidth:1}
];

const lab={fontSize:9,color:'#333',fontFamily:TFONT,margin:4};
const tick={show:true,length:3,lineStyle:{color:'#444',width:0.8}};
const split={show:true,lineStyle:{color:'rgba(170,170,170,0.4)',width:0.8}};
const minusFmt=v=>(v<0?'\u2212':'')+Math.abs(v).toFixed(1);

function vAxis(gi,min,max,vals,fmt,extra){
  const a={gridIndex:gi,type:'value',min,max,
    axisLine:{show:false},
    axisTick:Object.assign({},tick,{customValues:vals}),
    axisLabel:Object.assign({},lab,{customValues:vals,formatter:fmt||(v=>String(v))}),
    splitLine:split};
  return Object.assign(a,extra||{});
}
const sepY=[5,10,15,20], sepX=[0,5,10,15,20,25];
const covY=[-2.5,0,2.5,5,7.5,10,12.5], covX=[-5,-2.5,0,2.5,5,7.5,10,12.5,15];
const kX=[2,4,6,8,10];
const silY=[0.3,0.4,0.5,0.6,0.7,0.8,0.9], ratY=[0.2,0.4,0.6,0.8,1.0];
const nameStyle={fontFamily:FONT,fontSize:13,color:'#111'};

const xAxes=[
 vAxis(0,0,25,sepX,null,{axisLine:{show:true,lineStyle:{color:'#444',width:0.8}}}),
 vAxis(1,0,25,sepX,null,{axisLine:{show:true,lineStyle:{color:'#444',width:0.8}},name:'Value of the first dimension',nameLocation:'middle',nameGap:16,nameTextStyle:{fontFamily:'"Liberation Sans",Arial,sans-serif',fontSize:13,color:'#222'}}),
 vAxis(2,0.55,10.45,kX,null,{name:'Number of clusters',nameLocation:'middle',nameGap:15,nameTextStyle:nameStyle}),
 vAxis(3,0.55,10.45,kX,null,{name:'Number of clusters',nameLocation:'middle',nameGap:15,nameTextStyle:nameStyle}),
 vAxis(4,-5,15,covX,minusFmt),
 vAxis(5,-5,15,covX,minusFmt),
 vAxis(6,0.55,10.45,kX,null,{name:'Number of clusters',nameLocation:'middle',nameGap:14,nameTextStyle:Object.assign({},nameStyle,{fontSize:11})}),
 vAxis(7,0.55,10.45,kX,null,{name:'Number of clusters',nameLocation:'middle',nameGap:14,nameTextStyle:Object.assign({},nameStyle,{fontSize:11})})
];
const f1=v=>v.toFixed(1);
const yAxes=[
 vAxis(0,0.35,24.7,sepY,null,{axisLine:{show:true,lineStyle:{color:'#444',width:0.8}}}),
 vAxis(1,0.35,24.7,sepY,null,{axisLine:{show:true,lineStyle:{color:'#444',width:0.8}},name:'Value of the second dimension',nameLocation:'middle',nameGap:16,nameTextStyle:{fontFamily:'"Liberation Sans",Arial,sans-serif',fontSize:13,color:'#222'}}),
 vAxis(2,0.3,0.9,silY,f1,{name:'Silhouette Coefficient',nameLocation:'middle',nameGap:24,nameTextStyle:nameStyle}),
 vAxis(3,0.3,0.9,silY,f1,{name:'Silhouette Coefficient',nameLocation:'middle',nameGap:24,nameTextStyle:nameStyle}),
 vAxis(4,-4.76,14.75,covY,minusFmt),
 vAxis(5,-4.8,14.7,covY,minusFmt),
 vAxis(6,0.2,1.1,ratY,f1,{name:'Proportion of data with increasing stage',nameLocation:'middle',nameGap:20,nameTextStyle:Object.assign({},nameStyle,{fontSize:10.5})}),
 vAxis(7,0.2,1.1,ratY,f1,{name:'Proportion of data with increasing stage',nameLocation:'middle',nameGap:20,nameTextStyle:Object.assign({},nameStyle,{fontSize:10.5})})
];

function ax(gi){return {xAxisIndex:gi,yAxisIndex:gi};}
function pts(gi,data,color,size,z){return Object.assign({type:'scatter',data,symbolSize:size,itemStyle:{color},silent:true,z:z||3},ax(gi));}
function faint(gi,data){return Object.assign({type:'scatter',data,symbolSize:7,itemStyle:{color:'rgba(220,220,220,0.25)',borderColor:'rgba(150,150,150,0.28)',borderWidth:0.8},silent:true,z:1},ax(gi));}
function ellipses(gi,ells,color,width){
  return Object.assign({type:'custom',silent:true,z:6,data:ells,
    renderItem:function(params,api){
      const cx=api.value(0),cy=api.value(1),a=api.value(2),b=api.value(3),th=api.value(4)*Math.PI/180,d=api.value(5);
      const p=[];
      for(let k=0;k<=96;k++){const t=k/96*2*Math.PI,ex=a*Math.cos(t),ey=b*Math.sin(t);
        p.push(api.coord([cx+ex*Math.cos(th)-ey*Math.sin(th),cy+ex*Math.sin(th)+ey*Math.cos(th)]));}
      const st={stroke:color,lineWidth:width,fill:null};
      if(DASHES[d]) st.lineDash=DASHES[d];
      return {type:'polyline',shape:{points:p},style:st};
    }},ax(gi));
}
function labels(gi,arr){return Object.assign({type:'scatter',data:arr.map(a=>({value:[a[0],a[1]],name:a[2]})),symbolSize:1,itemStyle:{color:'rgba(0,0,0,0)'},
  label:{show:true,position:'inside',formatter:'{b}',color:'#111',fontSize:11,fontFamily:FONT},silent:true,z:10},ax(gi));}
function change(gi,path){
  const segs=[];for(let i=0;i<path.length-1;i++)segs.push({coords:[path[i],path[i+1]]});
  return [Object.assign({type:'lines',coordinateSystem:'cartesian2d',data:segs,symbol:['none','arrow'],symbolSize:[0,5],lineStyle:{color:'#111',width:1,opacity:1,curveness:0},silent:true,z:8},ax(gi)),
          Object.assign({type:'scatter',data:path,symbolSize:7,itemStyle:{color:'#8fcf4f',borderColor:'#1d3a12',borderWidth:1},silent:true,z:9},ax(gi))];
}
function curve(gi,vals,optK){
  return Object.assign({type:'line',data:clusterCounts.map((k,i)=>[k,vals[i]]),symbol:'path://M0,5L10,5M5,0L5,10',symbolSize:5,showSymbol:true,
    itemStyle:{color:'#6aa8dc',borderColor:'#6aa8dc',borderWidth:1},lineStyle:{color:'#3583c8',width:1.4},silent:true,z:4,
    markLine:{silent:true,symbol:'none',label:{show:false},lineStyle:{color:'#d62728',type:[4,3],width:1.1},data:[{xAxis:optK}]}},ax(gi));
}

const S1=7, S2=6.5;
const series=[
 faint(0,tlFaint),
 pts(0,tlNonSepsisS2,'#5b9bd5',S1),
 pts(0,tlSepsisS3,'#c00000',S1),
 ellipses(0,tlEllipses,'#555',0.8),
 labels(0,tlLabels),
 ...change(0,tlGreenPath),
 faint(1,trFaint),
 pts(1,trNonSepsisS1,'#9dc3e6',S1),
 pts(1,trNonSepsisS2,'#5b9bd5',S1),
 pts(1,trNonSepsisS3,'#2e75b6',S1),
 pts(1,trNonSepsisS4,'#1f4e79',S1),
 pts(1,trSepsisS1,'#f6b4b4',S1),
 pts(1,trSepsisS2,'#e07070',S1),
 pts(1,trSepsisS3,'#c00000',S1),
 pts(1,trSepsisS4,'#000000',S1),
 ellipses(1,trEllipses,'#666',0.8),
 labels(1,trLabels),
 ...change(1,trGreenPath),
 curve(2,silhouetteWithoutRU,silhouetteOptimal[0]),
 curve(3,silhouetteWithRU,silhouetteOptimal[1]),
 pts(4,blSurvivalS4,'#1f3f77',S2),
 pts(4,blSurvivalS3,'#2a6cb0',S2),
 pts(4,blSurvivalS2,'#2e75b6',S2),
 pts(4,blSurvivalS1,'#9dc3e6',S2),
 pts(4,blDeathS1,'#f8b7b7',S2),
 pts(4,blDeathS2,'#f4b183',S2),
 pts(4,blDeathS3,'#fa6a3c',S2),
 pts(4,blDeathS4,'#c00000',S2),
 ellipses(4,blEllipses,'#333',0.9),
 labels(4,blLabels),
 ...change(4,blGreenPath),
 pts(5,brSurvivalS4,'#1f3f77',S2),
 pts(5,brSurvivalS2,'#2e75b6',S2),
 pts(5,brSurvivalS1,'#9dc3e6',S2),
 pts(5,brDeathS1,'#f8b7b7',S2),
 pts(5,brDeathS2,'#fa6a3c',S2),
 pts(5,brDeathS3,'#c00000',S2),
 ellipses(5,brEllipses,'#333',0.9),
 labels(5,brLabels),
 ...change(5,brGreenPath),
 curve(6,rationalityWithoutRU,rationalityOptimal[0]),
 curve(7,rationalityWithRU,rationalityOptimal[1])
];

const G=[];
function txt(x,y,t,size,weight,align,family,color){G.push({type:'text',x,y,silent:true,z:20,style:{text:t,fontSize:size,fontWeight:weight||'normal',fontFamily:family||FONT,fill:color||'#111',align:align||'left',verticalAlign:'middle',textAlign:align||'left',textVerticalAlign:'middle'}});}
function dot(x,y,r,fill,stroke){G.push({type:'circle',silent:true,z:20,shape:{cx:x,cy:y,r},style:{fill,stroke:stroke||null,lineWidth:stroke?0.8:0}});}
txt(364,60.6,'1. Sepsis sample representation without RU',16,'bold','center');
txt(768,60.6,'2. Sepsis sample representation with RU',16,'bold','center');
txt(383,854,'1. Death sample representation without RU',16,'bold','center');
txt(782,854,'2. Death sample representation with RU',16,'bold','center');
const RFONT='"Liberation Sans",Arial,sans-serif';
txt(216,93,'Representation of samples in the reduced 2D space',12.7,'normal','left',RFONT,'#333');
txt(633,93,'Representation of samples in the reduced 2D space',12.7,'normal','left',RFONT,'#333');
txt(236,888.3,'Representation of samples in the reduced 2D space',12.7,'normal','left',RFONT,'#333');
txt(647,888.3,'Representation of samples in the reduced 2D space',12.7,'normal','left',RFONT,'#333');
txt(58,476,'Optimal number of clusters',14); txt(58,494.3,'(stages) without RU',14);
txt(301.7,476,'Optimal number of clusters',14); txt(301.7,494.3,'(stages) with RU',14);
txt(112,1275.7,'Rationality of clustering',14); txt(112,1293.3,'(staging) without RU',14);
txt(371.7,1275.7,'Rationality of clustering',14); txt(371.7,1293.3,'(staging) with RU',14);
dot(35,97.3,2.6,'#a9d18e','#38562a'); txt(46.7,95.7,'Representation change',14); txt(46.7,114,'of a sepsis sample',14);
legendSepsis.forEach((l,i)=>{const y=157.7+27.5*i;dot(38.3,y+1,2.4,l[1]);txt(50,y,l[0],14);});
dot(36,891.7,2.6,'#a9d18e','#38562a'); txt(49,891,'Representation change',14); txt(49,909,'of a sepsis sample',14);
legendCovid.forEach((l,i)=>{const y=953.3+27.3*i;dot(39.3,y+1,2.4,l[1]);txt(52.3,y,l[0],14);});

const chart=echarts.init(document.getElementById('chart'),null,{renderer:'svg'});
chart.setOption({animation:false,grid:grids,xAxis:xAxes,yAxis:yAxes,series,graphic:G});
</script>
</body></html>
